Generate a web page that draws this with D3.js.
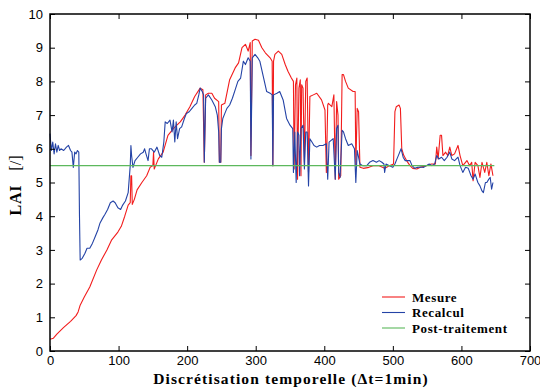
<!DOCTYPE html>
<html>
<head>
<meta charset="utf-8">
<script src="https://cdn.jsdelivr.net/npm/d3@7"></script>
<style>
  body { margin: 0; background: #fff; }
  svg { display: block; }
</style>
</head>
<body>
<div id="chart"></div>
<script>
// series as [minute, LAI] pairs
var mesure = [
  [0,0.35],[5,0.38],[10,0.5],[20,0.7],[30,0.88],[38,1.05],[41,1.16],[44,1.36],[50,1.6],[58,1.9],
  [68,2.4],[75,2.7],[83,3.0],[90,3.3],[99,3.53],[104,3.7],[109,4.0],[114,4.33],[117,4.4],[118,5.2],
  [119,5.2],[120,4.35],[123,4.5],[127,4.78],[134,5.0],[141,5.2],[146,5.45],[150,5.5],[151,5.9],[152,5.4],
  [153,5.45],[158,5.7],[165,5.9],[172,6.4],[180,6.6],[185,6.7],[190,6.8],[197,7.0],[204,7.25],[211,7.55],
  [219,7.8],[223,7.75],[225,5.6],[227,7.6],[231,7.65],[236,7.65],[240,7.5],[246,7.4],[247,5.6],[249,5.6],
  [250,7.3],[255,7.35],[262,8.05],[270,8.4],[275,8.55],[280,9.0],[285,9.1],[289,8.9],[292,9.15],[293,5.8],
  [295,9.2],[299,9.25],[304,9.22],[309,9.0],[314,8.85],[321,8.7],[324,8.6],[325,5.5],[326,8.6],[328,8.8],
  [333,8.9],[338,8.8],[343,8.5],[347,8.3],[352,8.1],[355,8.0],[356,5.4],[358,7.9],[360,8.1],[361,5.1],
  [363,7.8],[365,8.05],[366,5.2],[367,7.9],[369,7.8],[371,5.6],[373,8.0],[375,8.1],[377,5.3],[379,7.55],
  [384,7.6],[389,7.65],[396,7.45],[401,7.15],[403,5.3],[405,7.3],[406,7.35],[411,7.25],[414,7.6],[416,5.1],
  [418,7.4],[420,7.0],[421,5.1],[424,5.2],[426,8.2],[428,8.2],[431,8.0],[435,7.8],[442,7.7],[445,7.7],
  [446,5.5],[448,7.2],[450,7.1],[452,5.45],[457,5.42],[465,5.45],[471,5.5],[480,5.5],[488,5.42],[491,5.45],
  [495,5.5],[501,5.55],[503,7.1],[505,7.25],[509,7.3],[511,7.2],[513,6.0],[516,5.8],[520,5.65],[525,5.5],
  [529,5.42],[535,5.4],[540,5.45],[549,5.5],[556,5.55],[562,5.55],[564,6.05],[566,5.7],[569,6.4],[571,6.4],
  [573,5.8],[577,5.9],[580,5.8],[583,6.05],[586,5.8],[590,5.85],[595,6.1],[598,5.8],[602,5.5],[606,5.6],
  [608,5.65],[612,5.5],[615,5.6],[617,5.05],[620,5.6],[624,5.5],[627,5.15],[630,5.6],[634,5.3],[637,5.6],
  [640,5.2],[643,5.55],[646,5.2]
];

var recalcul = [
  [0,6.45],[2,5.95],[4,6.2],[6,5.85],[8,6.15],[10,5.9],[12,6.1],[14,5.95],[16,6.0],[20,5.95],
  [24,6.05],[27,6.1],[30,5.95],[32,5.9],[34,5.45],[36,5.9],[38,5.85],[40,5.95],[42,5.9],[43,4.0],
  [44,2.7],[47,2.75],[51,2.9],[54,3.05],[58,3.05],[62,3.2],[66,3.4],[70,3.6],[73,3.8],[77,3.95],
  [80,4.05],[84,4.2],[88,4.4],[92,4.45],[95,4.4],[99,4.25],[103,4.2],[106,4.33],[110,4.45],[114,4.7],
  [117,5.5],[118,6.1],[119,5.8],[121,5.45],[124,5.65],[128,5.75],[132,5.85],[136,5.9],[138,6.0],[140,5.85],
  [143,5.65],[145,6.0],[148,6.0],[152,5.9],[156,6.05],[160,5.8],[163,5.75],[166,6.2],[168,6.8],[171,6.75],
  [175,6.85],[178,6.5],[180,6.85],[182,6.2],[184,6.8],[186,6.3],[189,6.6],[192,6.65],[196,6.9],[199,7.05],
  [203,7.1],[207,7.2],[211,7.3],[214,7.35],[217,7.6],[219,7.8],[222,7.7],[224,7.6],[225,5.6],[227,7.5],
  [231,7.6],[236,7.45],[241,7.25],[244,7.0],[246,6.5],[247,5.6],[249,5.6],[250,6.6],[252,6.9],[255,7.05],
  [258,7.2],[262,7.3],[266,7.5],[270,7.75],[274,8.0],[278,8.1],[282,8.6],[285,8.5],[289,8.7],[292,8.6],
  [293,5.7],[295,8.7],[299,8.8],[303,8.7],[306,8.6],[311,8.15],[316,7.7],[321,7.65],[324,7.6],[325,5.5],
  [326,7.6],[331,7.65],[335,7.7],[340,7.45],[345,6.9],[350,6.7],[354,6.6],[355,5.3],[357,6.5],[359,5.0],
  [361,6.5],[363,6.4],[364,5.2],[366,6.6],[369,6.7],[371,5.4],[373,6.5],[375,6.5],[377,4.9],[379,6.3],
  [382,6.2],[385,6.1],[389,6.05],[393,6.1],[398,6.1],[403,6.15],[405,5.1],[407,6.2],[413,6.3],[416,5.1],
  [418,6.6],[420,6.7],[421,5.3],[423,5.15],[426,6.55],[428,6.5],[431,6.3],[435,6.1],[440,6.15],[444,6.0],
  [446,5.0],[448,5.95],[452,5.55],[456,5.5],[462,5.5],[466,5.6],[471,5.65],[476,5.6],[480,5.65],[484,5.6],
  [487,5.55],[488,5.3],[490,5.55],[495,5.5],[500,5.45],[503,5.55],[506,5.7],[509,5.85],[512,6.0],[515,5.75],
  [518,5.65],[521,5.65],[525,5.65],[528,5.5],[532,5.42],[536,5.45],[540,5.46],[545,5.45],[549,5.5],[553,5.55],
  [557,5.5],[561,5.55],[564,5.8],[567,5.7],[571,5.75],[575,5.65],[579,5.75],[583,5.9],[586,5.7],[590,5.65],
  [595,5.75],[598,5.5],[602,5.3],[606,5.45],[610,5.42],[614,5.2],[617,5.1],[620,5.25],[624,5.0],[627,4.9],
  [630,4.75],[632,4.7],[635,5.0],[637,5.0],[640,5.1],[642,5.15],[644,4.8],[646,5.0]
];

var postTraitement = [[0,5.5],[648,5.5]];

var xTicks = [0, 100, 200, 300, 400, 500, 600, 700];
var yTicks = [0, 1, 2, 3, 4, 5, 6, 7, 8, 9, 10];

var seriesNames = ["Mesure", "Recalcul", "Post-traitement"];
var seriesColors = ["#f21c1c", "#2443a6", "#5cb85c"];

var width = 540, height = 390;
var margin = {top: 14, right: 10, bottom: 39, left: 50};

var svg = d3.select("#chart").append("svg")
    .attr("width", width)
    .attr("height", height);

var x = d3.scaleLinear().domain([0, 700]).range([margin.left, width - margin.right]);
var y = d3.scaleLinear().domain([0, 10]).range([height - margin.bottom, margin.top]);

var line = d3.line()
    .x(function (d) { return x(d[0]); })
    .y(function (d) { return y(d[1]); });

// curves
[mesure, recalcul, postTraitement].forEach(function (s, i) {
    svg.append("path")
        .datum(s)
        .attr("fill", "none")
        .attr("stroke", seriesColors[i])
        .attr("stroke-width", 1.1)
        .attr("stroke-linejoin", "round")
        .attr("d", line);
});

// axes with inward ticks on all sides
var tickFont = "'Liberation Sans', Arial, sans-serif";

var xAxis = svg.append("g")
    .attr("transform", "translate(0," + y(0) + ")")
    .call(d3.axisBottom(x).tickValues(xTicks).tickSize(-5).tickPadding(5));
var yAxis = svg.append("g")
    .attr("transform", "translate(" + x(0) + ",0)")
    .call(d3.axisLeft(y).tickValues(yTicks).tickSize(-5).tickPadding(7));
var xTop = svg.append("g")
    .attr("transform", "translate(0," + y(10) + ")")
    .call(d3.axisTop(x).tickValues(xTicks).tickSize(-5).tickFormat(""));
var yRight = svg.append("g")
    .attr("transform", "translate(" + x(700) + ",0)")
    .call(d3.axisRight(y).tickValues(yTicks).tickSize(-5).tickFormat(""));

[xAxis, yAxis, xTop, yRight].forEach(function (g) {
    g.select(".domain").remove();
    g.selectAll(".tick line").attr("stroke", "#000").attr("stroke-width", 1);
    g.selectAll("text")
        .style("font-family", tickFont)
        .style("font-size", "13px")
        .attr("fill", "#000");
});

// frame
svg.append("rect")
    .attr("x", x(0))
    .attr("y", y(10))
    .attr("width", x(700) - x(0))
    .attr("height", y(0) - y(10))
    .attr("fill", "none")
    .attr("stroke", "#000")
    .attr("stroke-width", 1.5);

// axis titles
var serif = "'Liberation Serif', 'DejaVu Serif', serif";

svg.append("text")
    .attr("x", (x(0) + x(700)) / 2 + 1)
    .attr("y", 384)
    .attr("text-anchor", "middle")
    .style("font-family", serif)
    .style("font-weight", "bold")
    .style("font-size", "15.5px")
    .style("letter-spacing", "1.1px")
    .text("Discrétisation temporelle (Δt=1min)");

var yTitle = svg.append("text")
    .attr("transform", "translate(21," + ((y(0) + y(10)) / 2 + 3) + ") rotate(-90)")
    .attr("text-anchor", "middle")
    .style("font-family", serif)
    .style("font-size", "16px");
yTitle.append("tspan").style("font-weight", "bold").style("letter-spacing", "0.8px").text("LAI");
yTitle.append("tspan").attr("dx", 14).text("[/]");

// legend
var legend = svg.append("g");
seriesNames.forEach(function (name, i) {
    var row = legend.append("g").attr("transform", "translate(382," + (297 + i * 15.5) + ")");
    row.append("line")
        .attr("x1", 0).attr("x2", 23)
        .attr("stroke", seriesColors[i])
        .attr("stroke-width", 1.1);
    row.append("text")
        .attr("x", 30)
        .attr("dy", "0.35em")
        .style("font-family", serif)
        .style("font-weight", "bold")
        .style("font-size", "13px")
        .style("letter-spacing", "0.6px")
        .text(name);
});
</script>
</body>
</html>
